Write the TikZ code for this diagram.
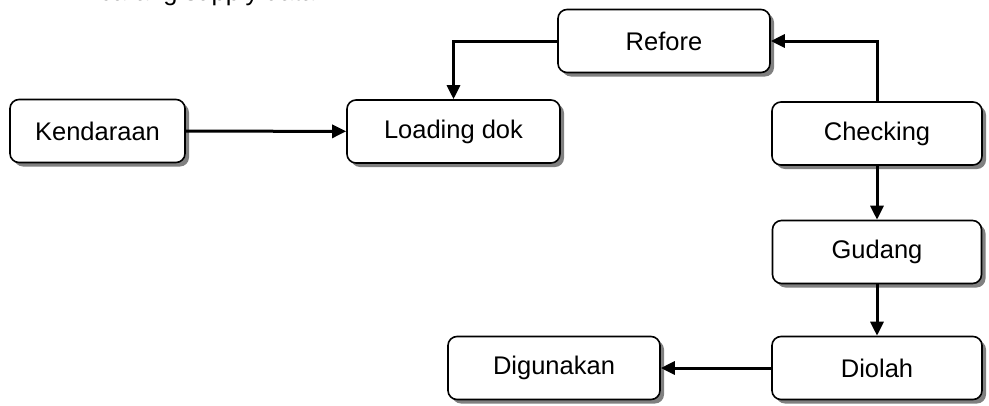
\documentclass[tikz,border=0pt]{standalone}
\usepackage{fontspec}
\setmainfont{Liberation Sans}
\usetikzlibrary{arrows.meta,shadows}
\begin{document}
\begin{tikzpicture}[x=1pt,y=-1pt,
  procbox/.style={draw=black, line width=1.6pt, rounded corners=9pt, fill=white,
    minimum width=#1, minimum height=63pt, inner sep=0pt,
    font=\fontsize{25.5}{30}\selectfont,
    drop shadow={shadow xshift=4pt, shadow yshift=-4pt, fill=black!50, opacity=1}},
  procbox/.default=210pt,
  flow/.style={line width=3pt, -{Triangle[length=14pt,width=13pt]}}]
\useasboundingbox (0,0) rectangle (989,405);
\clip (0,0) rectangle (989,405);
\node[anchor=base west, font=\fontsize{25.5}{30}\selectfont, inner sep=0pt] (cap) at (98,0.5) {barang supply data};
\node[procbox=175pt] (kend) at (97.5,131) {Kendaraan};
\node[procbox=213pt] (load) at (453.5,131.5) {Loading dok};
\node[procbox=212pt] (ref) at (664,41) {Refore};
\node[procbox=210pt] (chk) at (877,133.5) {Checking};
\node[procbox=209pt] (gud) at (877,252) {Gudang};
\node[procbox=210pt] (dio) at (877,368) {Diolah};
\node[procbox=212pt] (dig) at (554,368) {Digunakan};
\draw[flow] (kend) -- (load);
\draw[flow] (ref.west) -| (load.north);
\draw[flow] (chk.north) |- (ref.east);
\draw[flow] (chk) -- (gud);
\draw[flow] (gud) -- (dio);
\draw[flow] (dio) -- (dig);
\end{tikzpicture}
\end{document}
